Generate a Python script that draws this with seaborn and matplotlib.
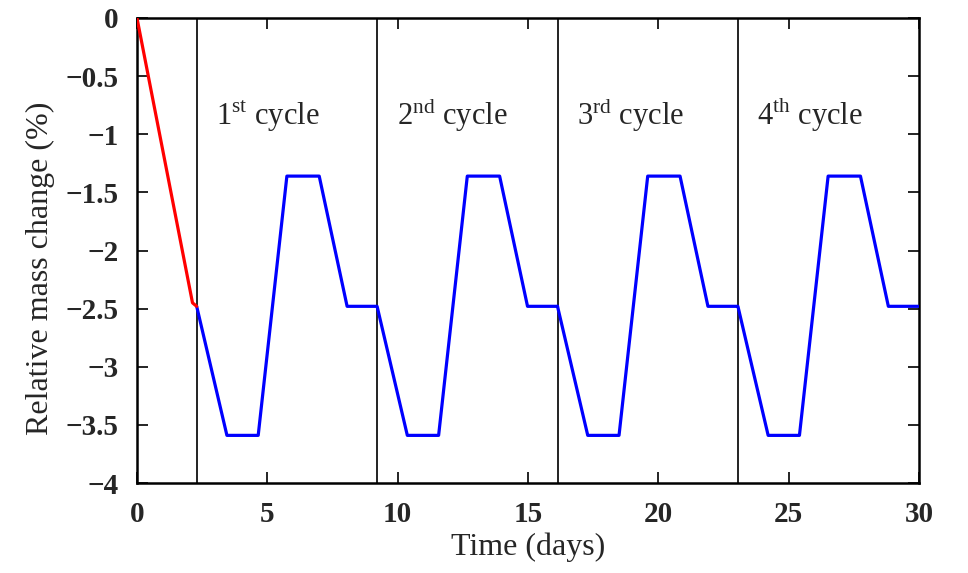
import numpy as np
import pandas as pd
import matplotlib
matplotlib.use("Agg")
import matplotlib.pyplot as plt
import seaborn as sns

# Initial drying (red)
init_time = [0.0, 2.13, 2.29]
init_mass = [0.0, -2.45, -2.48]

# Cycle start days (vertical lines)
cycle_starts = [2.29, 9.21, 16.13, 23.05]
cycle_labels = ["1$^{\\mathrm{st}}$ cycle", "2$^{\\mathrm{nd}}$ cycle",
                "3$^{\\mathrm{rd}}$ cycle", "4$^{\\mathrm{th}}$ cycle"]

# Knot points within one cycle (days after cycle start, relative mass change %)
cycle_offsets = [0.0, 1.16, 2.36, 3.46, 4.70, 5.77, 6.92]
cycle_mass = [-2.48, -3.59, -3.59, -1.36, -1.36, -2.48, -2.48]

x_ticks = [0, 5, 10, 15, 20, 25, 30]
y_ticks = [0, -0.5, -1, -1.5, -2, -2.5, -3, -3.5, -4]
y_ticklabels = ["0", "\u22120.5", "\u22121", "\u22121.5", "\u22122", "\u22122.5", "\u22123", "\u22123.5", "\u22124"]

sns.set_theme(style="white")
plt.rcParams["font.family"] = ["Liberation Serif", "DejaVu Serif"]
plt.rcParams["mathtext.fontset"] = "custom"
plt.rcParams["mathtext.rm"] = "Liberation Serif"

rows = []
for t, m in zip(init_time, init_mass):
    rows.append({"time": t, "mass": m, "phase": "init"})
for s in cycle_starts:
    for o, m in zip(cycle_offsets, cycle_mass):
        rows.append({"time": s + o, "mass": m, "phase": "cycle"})
df = pd.DataFrame(rows)

fig = plt.figure(figsize=(9.68, 5.73), dpi=100)
ax = fig.add_axes([0.1415, 0.157, 0.808, 0.8116])

for xs in cycle_starts:
    ax.axvline(xs, color="#222222", lw=1.4, zorder=1)

sns.lineplot(data=df[df.phase == "cycle"], x="time", y="mass", color="#0000ff",
             lw=2.3, sort=False, estimator=None, ax=ax, zorder=3)
sns.lineplot(data=df[df.phase == "init"], x="time", y="mass", color="#ff0000",
             lw=2.3, sort=False, estimator=None, ax=ax, zorder=3)
for ln in ax.get_lines():
    ln.set_solid_joinstyle("round")

for s, lab in zip(cycle_starts, cycle_labels):
    ax.text(s + 0.75, -0.92, lab, fontsize=22, ha="left", va="baseline")

ax.set_xlim(0, 30)
ax.set_ylim(-4, 0)
ax.set_xticks(x_ticks)
ax.set_xticklabels([str(v) for v in x_ticks], fontweight="bold", fontsize=21)
ax.set_yticks(y_ticks)
ax.set_yticklabels(y_ticklabels, fontweight="bold", fontsize=21)
ax.tick_params(direction="in", length=8, width=1.2, top=True, right=True,
               bottom=True, left=True, color="black")
ax.tick_params(axis="y", pad=13)
ax.tick_params(axis="x", pad=13)
for sp in ax.spines.values():
    sp.set_color("black")
    sp.set_linewidth(1.8)
ax.set_xlabel("Time (days)", fontsize=23, labelpad=3)
ax.set_ylabel("Relative mass change (%)", fontsize=23)
ax.yaxis.set_label_coords(-0.105, 0.462)

fig.savefig("out.png", dpi=100)
